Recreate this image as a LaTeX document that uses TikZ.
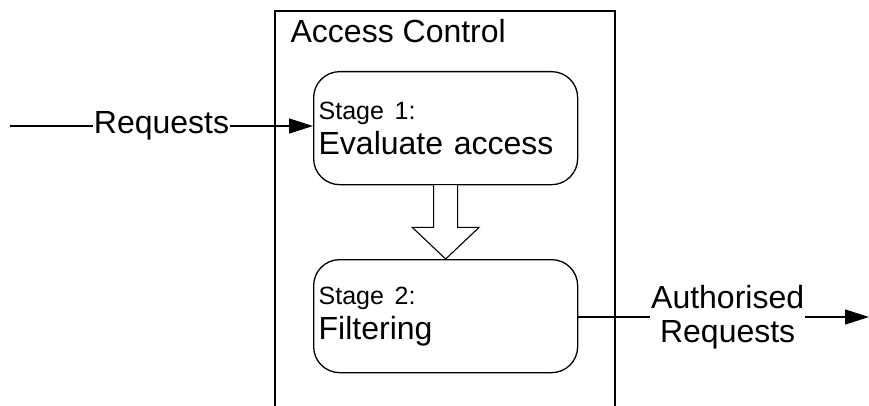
\documentclass[tikz,border=0pt]{standalone}
\usepackage{fontspec}
\setmainfont{Liberation Sans}
\usetikzlibrary{arrows.meta,positioning}

\tikzset{
  stage/.style={draw,rounded corners=26pt,minimum width=264pt,minimum height=113pt,
    text width=254pt,inner xsep=5pt,align=left,anchor=north west,
    font=\fontsize{32}{35}\selectfont},
  flow/.style={-{Triangle[length=24pt,width=15pt]}},
  lbl/.style={fill=white,inner sep=1pt,align=center,font=\fontsize{32}{34}\selectfont},
}
\newcommand{\stagehead}{\fontsize{25}{30}\selectfont}

\begin{document}
\begin{tikzpicture}[x=1pt,y=-1pt,line width=1.3pt]
\useasboundingbox (0,0) rectangle (869,406);

% Container: Access Control
\draw (275,406) -- (275,11) -- (615,11) -- (615,406);
\node[anchor=base west,inner sep=0pt,font=\fontsize{32}{36}\selectfont] (acl) at (290,43) {Access Control};

% Node: Stage 1
\node[stage] (s1) at (313,71) {{\stagehead Stage 1:}\\Evaluate access};

% Node: Stage 2
\node[stage] (s2) at (313,259) {{\stagehead Stage 2:}\\Filtering};

% Edge: in -> Stage 1
\coordinate (in) at (10,126);
\draw[flow] (in) -- node[lbl] {Requests} (in -| s1.west);

% Edge: Stage 1 -> Stage 2 (block arrow)
\draw[fill=white,line width=1.1pt] ([xshift=-12pt]s1.south) -- ([xshift=-12pt,yshift=-42pt]s1.south)
  -- ([xshift=-33.5pt,yshift=-42pt]s1.south) -- (s2.north)
  -- ([xshift=33.5pt,yshift=-42pt]s1.south) -- ([xshift=12pt,yshift=-42pt]s1.south)
  -- ([xshift=12pt]s1.south);

% Edge: Stage 2 -> out
\coordinate (out) at (869,317);
\draw[flow] (s2.east |- out) -- node[lbl,xshift=4pt] {Authorised\\Requests} (out);
\end{tikzpicture}
\end{document}
